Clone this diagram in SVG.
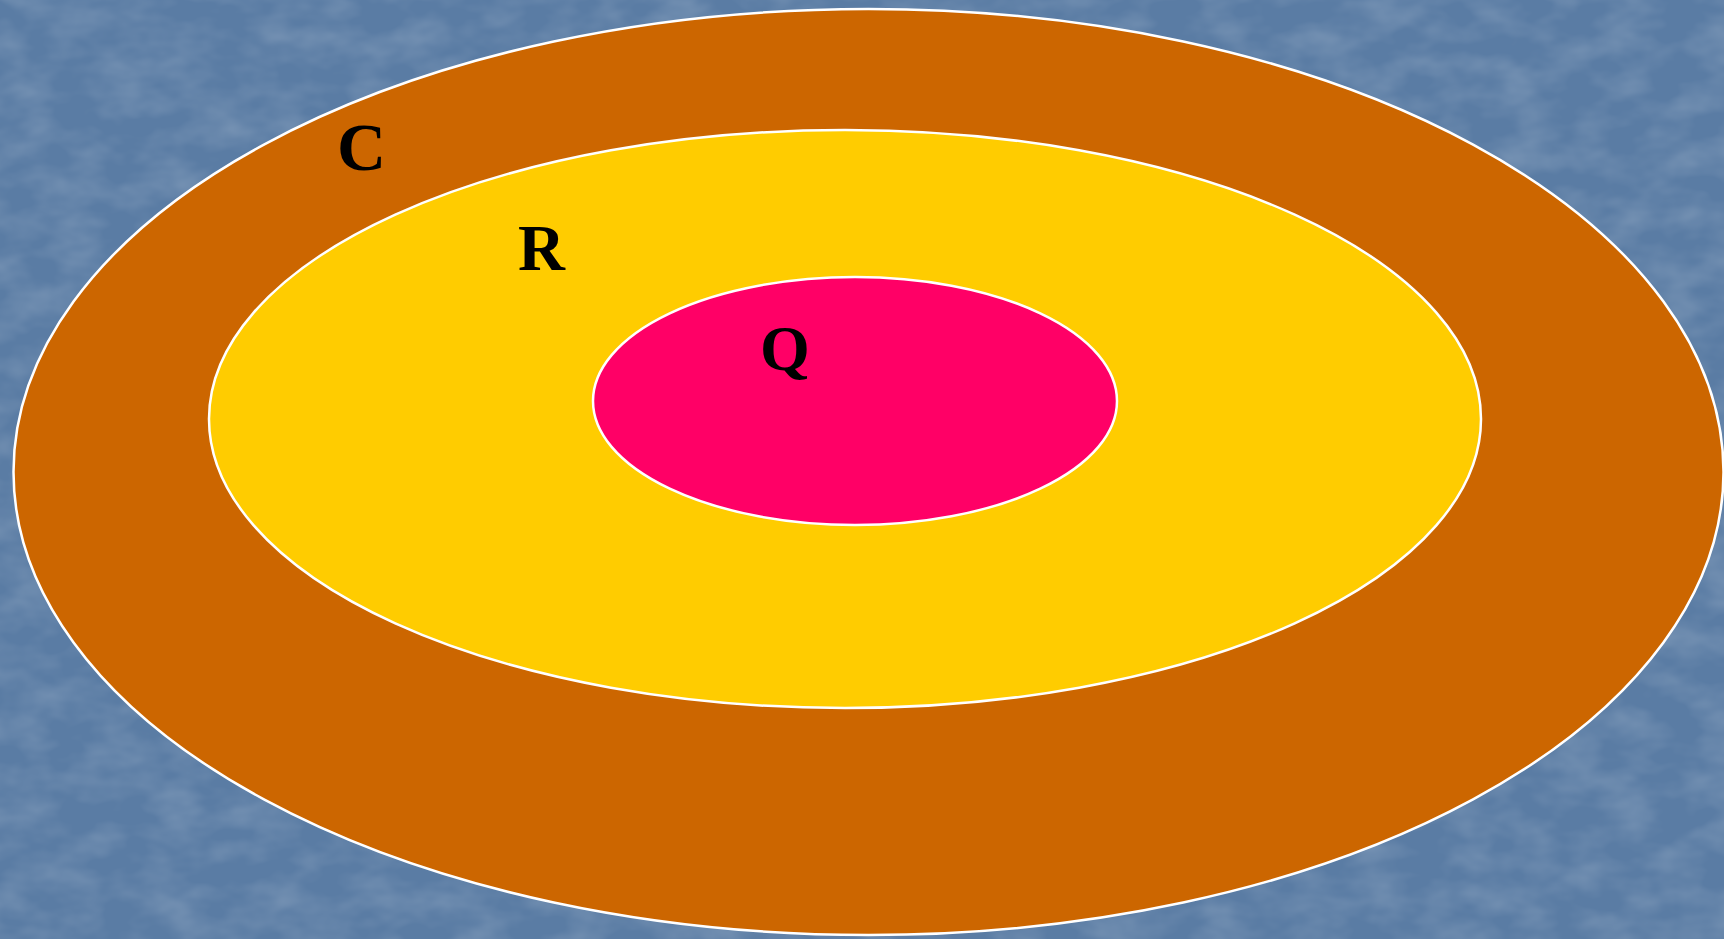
<svg xmlns="http://www.w3.org/2000/svg" width="1724" height="939" viewBox="0 0 1724 939">
  <defs>
    <filter id="tex" x="0" y="0" width="100%" height="100%">
      <feTurbulence type="fractalNoise" baseFrequency="0.02 0.035" numOctaves="3" seed="7" result="n"/>
      <feColorMatrix in="n" type="matrix" values="0 0 0 0 1  0 0 0 0 1  0 0 0 0 1  0 0 0 0.28 -0.1"/>
    </filter>
  </defs>
  <style>
    .ring { stroke: #ffffff; stroke-width: 2.5; }
    .lbl { font-family: 'Liberation Serif', serif; font-weight: 700; fill: #000000; }
  </style>
  <rect x="0" y="0" width="1724" height="939" fill="#5a7ca4"/>
  <rect x="0" y="0" width="1724" height="939" filter="url(#tex)"/>
  <g id="node-C">
    <ellipse class="ring" cx="868.5" cy="472" rx="855" ry="463" fill="#cc6600"/>
    <text class="lbl" font-family="Liberation Serif" x="337" y="170" font-size="68">C</text>
  </g>
  <g id="node-R">
    <ellipse class="ring" cx="845" cy="419" rx="636" ry="289" fill="#ffcc00"/>
    <text class="lbl" font-family="Liberation Serif" x="518" y="270" font-size="65">R</text>
  </g>
  <g id="node-Q">
    <ellipse class="ring" cx="855" cy="401" rx="262" ry="124" fill="#ff0066"/>
    <text class="lbl" font-family="Liberation Serif" x="760" y="370" font-size="64">Q</text>
  </g>
  <g id="connectors"/>
</svg>
